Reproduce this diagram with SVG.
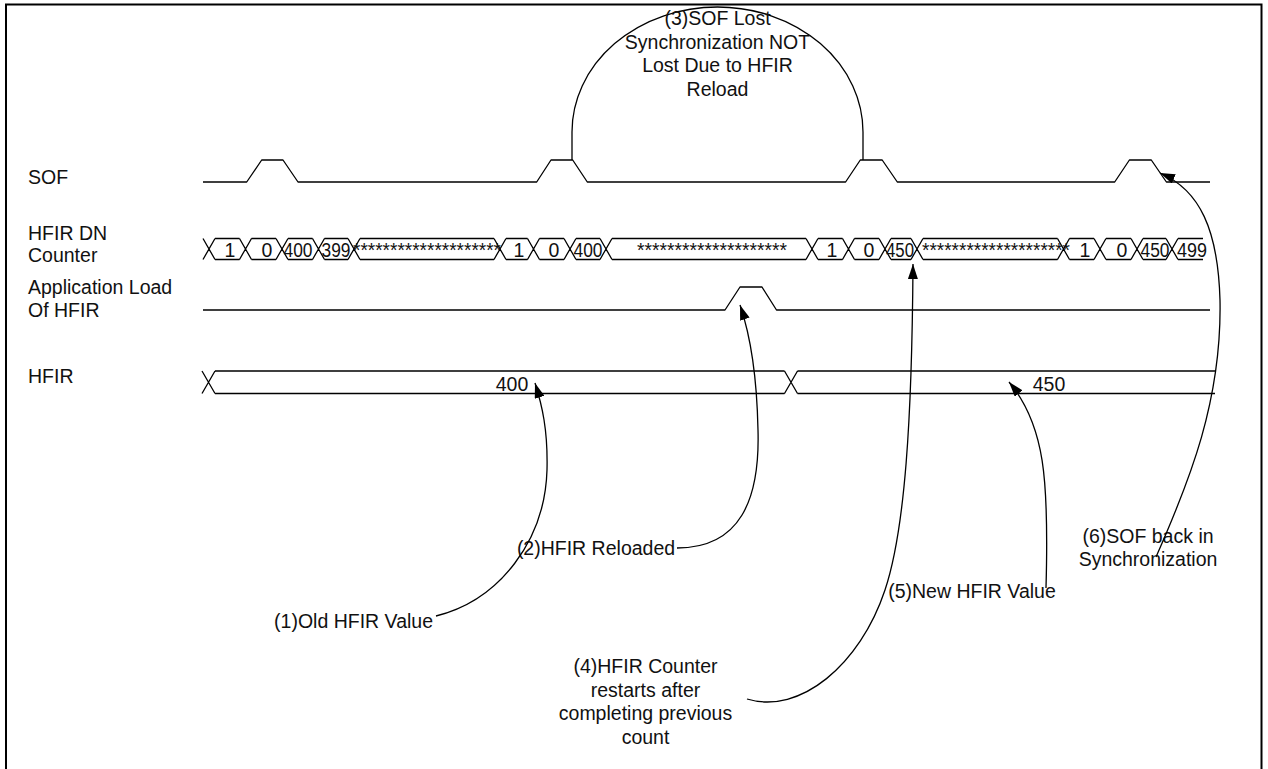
<svg xmlns="http://www.w3.org/2000/svg" width="1268" height="769" viewBox="0 0 1268 769">
<style>
.sig{fill:none;stroke:#000;stroke-width:1.3;stroke-linejoin:round}
.con{fill:none;stroke:#000;stroke-width:1.3}
text{font-family:"Liberation Sans",Arial,sans-serif;font-size:19.5px;fill:#111}
.m{text-anchor:middle}
</style>
<defs>
<marker id="ah" viewBox="0 0 15 10" markerWidth="15" markerHeight="10" refX="15" refY="5" orient="auto" markerUnits="userSpaceOnUse">
<path d="M0,0 L15,5 L0,10 z" fill="#000"/>
</marker>
</defs>
<rect x="6" y="4.5" width="1255.5" height="800" fill="#fff" stroke="#000" stroke-width="2"/>

<g id="labels">
<text x="28" y="184">SOF</text>
<text x="28" y="240">HFIR DN</text>
<text x="28" y="262">Counter</text>
<text x="28" y="294">Application Load</text>
<text x="28" y="317">Of HFIR</text>
<text x="28" y="383">HFIR</text>
</g>

<g id="sof">
<path class="sig" d="M203,182 H246.7 L261.7,160 H283 L298,182 H536.7 L551,160 H572.7 L587.3,182 H845.6 L860.3,160 H882.2 L897.3,182 H1114.7 L1129.4,160 H1151.3 L1166.4,182 H1210"/>
</g>

<g id="arch">
<path class="sig" d="M572,160 V132 A145.5,125 0 0 1 863,132 V160"/>
<text class="m" x="717.5" y="25">(3)SOF Lost</text>
<text class="m" x="717.5" y="48.5">Synchronization NOT</text>
<text class="m" x="717.5" y="72">Lost Due to HFIR</text>
<text class="m" x="717.5" y="95.5">Reload</text>
</g>

<g id="hfir-dn-counter">
<path class="sig" d="M203,238.5 L215,259.5 M203,259.5 L215,238.5
M215,238.5 H239.5 M215,259.5 H239.5
M239.5,238.5 L251.5,259.5 M239.5,259.5 L251.5,238.5
M251.5,238.5 H276 M251.5,259.5 H276
M276,238.5 L288,259.5 M276,259.5 L288,238.5
M288,238.5 H312.5 M288,259.5 H312.5
M312.5,238.5 L324.5,259.5 M312.5,259.5 L324.5,238.5
M324.5,238.5 H348 M324.5,259.5 H348
M348,238.5 L360,259.5 M348,259.5 L360,238.5
M360,238.5 H494 M360,259.5 H494
M494,238.5 L506,259.5 M494,259.5 L506,238.5
M506,238.5 H527.5 M506,259.5 H527.5
M527.5,238.5 L539.5,259.5 M527.5,259.5 L539.5,238.5
M539.5,238.5 H564 M539.5,259.5 H564
M564,238.5 L576,259.5 M564,259.5 L576,238.5
M576,238.5 H600 M576,259.5 H600
M600,238.5 L612,259.5 M600,259.5 L612,238.5
M612,238.5 H806 M612,259.5 H806
M806,238.5 L818,259.5 M806,259.5 L818,238.5
M818,238.5 H842.5 M818,259.5 H842.5
M842.5,238.5 L854.5,259.5 M842.5,259.5 L854.5,238.5
M854.5,238.5 H879 M854.5,259.5 H879
M879,238.5 L891,259.5 M879,259.5 L891,238.5
M891,238.5 H911 M891,259.5 H911
M911,238.5 L923,259.5 M911,259.5 L923,238.5
M923,238.5 H1057.5 M923,259.5 H1057.5
M1057.5,238.5 L1069.5,259.5 M1057.5,259.5 L1069.5,238.5
M1069.5,238.5 H1094 M1069.5,259.5 H1094
M1094,238.5 L1106,259.5 M1094,259.5 L1106,238.5
M1106,238.5 H1131 M1106,259.5 H1131
M1131,238.5 L1143,259.5 M1131,259.5 L1143,238.5
M1143,238.5 H1166 M1143,259.5 H1166
M1166,238.5 L1178,259.5 M1166,259.5 L1178,238.5
M1178,238.5 H1203 M1178,259.5 H1203"/>
<text class="m" x="230" y="257">1</text>
<text class="m" x="267" y="257">0</text>
<text class="m" x="298" y="257" textLength="29" lengthAdjust="spacingAndGlyphs">400</text>
<text class="m" x="336" y="257" textLength="29" lengthAdjust="spacingAndGlyphs">399</text>
<text class="m" x="427" y="257" textLength="148" lengthAdjust="spacingAndGlyphs">********************</text>
<text class="m" x="519" y="257">1</text>
<text class="m" x="554" y="257">0</text>
<text class="m" x="588" y="257" textLength="29" lengthAdjust="spacingAndGlyphs">400</text>
<text class="m" x="712" y="257" textLength="150" lengthAdjust="spacingAndGlyphs">********************</text>
<text class="m" x="832" y="257">1</text>
<text class="m" x="869" y="257">0</text>
<text class="m" x="900" y="257" textLength="28" lengthAdjust="spacingAndGlyphs">450</text>
<text class="m" x="996" y="257" textLength="148" lengthAdjust="spacingAndGlyphs">********************</text>
<text class="m" x="1085" y="257">1</text>
<text class="m" x="1122" y="257">0</text>
<text class="m" x="1155" y="257" textLength="29" lengthAdjust="spacingAndGlyphs">450</text>
<text class="m" x="1192" y="257" textLength="30" lengthAdjust="spacingAndGlyphs">499</text>
</g>

<g id="app-load">
<path class="sig" d="M203,310 H725 L740,287 H762 L776.5,310 H1210"/>
</g>

<g id="hfir">
<path class="sig" d="M202,371 L215,393.5 M202,393.5 L215,371
M215,371 H784.5 M215,393.5 H784.5
M784.5,371 L797.5,393.5 M784.5,393.5 L797.5,371
M797.5,371 H1215 M797.5,393.5 H1215"/>
<text class="m" x="512" y="391">400</text>
<text class="m" x="1049" y="391">450</text>
</g>

<g id="notes">
<text x="433" y="628" text-anchor="end">(1)Old HFIR Value</text>
<text class="m" x="596" y="555">(2)HFIR Reloaded</text>
<text class="m" x="645.5" y="673">(4)HFIR Counter</text>
<text class="m" x="645.5" y="696.5">restarts after</text>
<text class="m" x="645.5" y="720">completing previous</text>
<text class="m" x="645.5" y="743.5">count</text>
<text class="m" x="972" y="598">(5)New HFIR Value</text>
<text class="m" x="1148" y="543">(6)SOF back in</text>
<text class="m" x="1148" y="566">Synchronization</text>
</g>

<g id="connectors">
<path class="con" marker-end="url(#ah)" d="M436,616 C500,600 545,540 547,470 C548,430 542,405 535,383"/>
<path class="con" marker-end="url(#ah)" d="M677,548 C740,548 760,500 758,430 C757,380 752,340 740,305"/>
<path class="con" marker-end="url(#ah)" d="M747,699 C800,715 860,665 885,590 C905,530 912,420 913,264"/>
<path class="con" marker-end="url(#ah)" d="M1046,588 C1049,480 1045,425 1009,382"/>
<path class="con" marker-end="url(#ah)" d="M1156,557 C1190,480 1222,400 1220,300 C1218,230 1200,190 1160,173"/>
</g>
</svg>
